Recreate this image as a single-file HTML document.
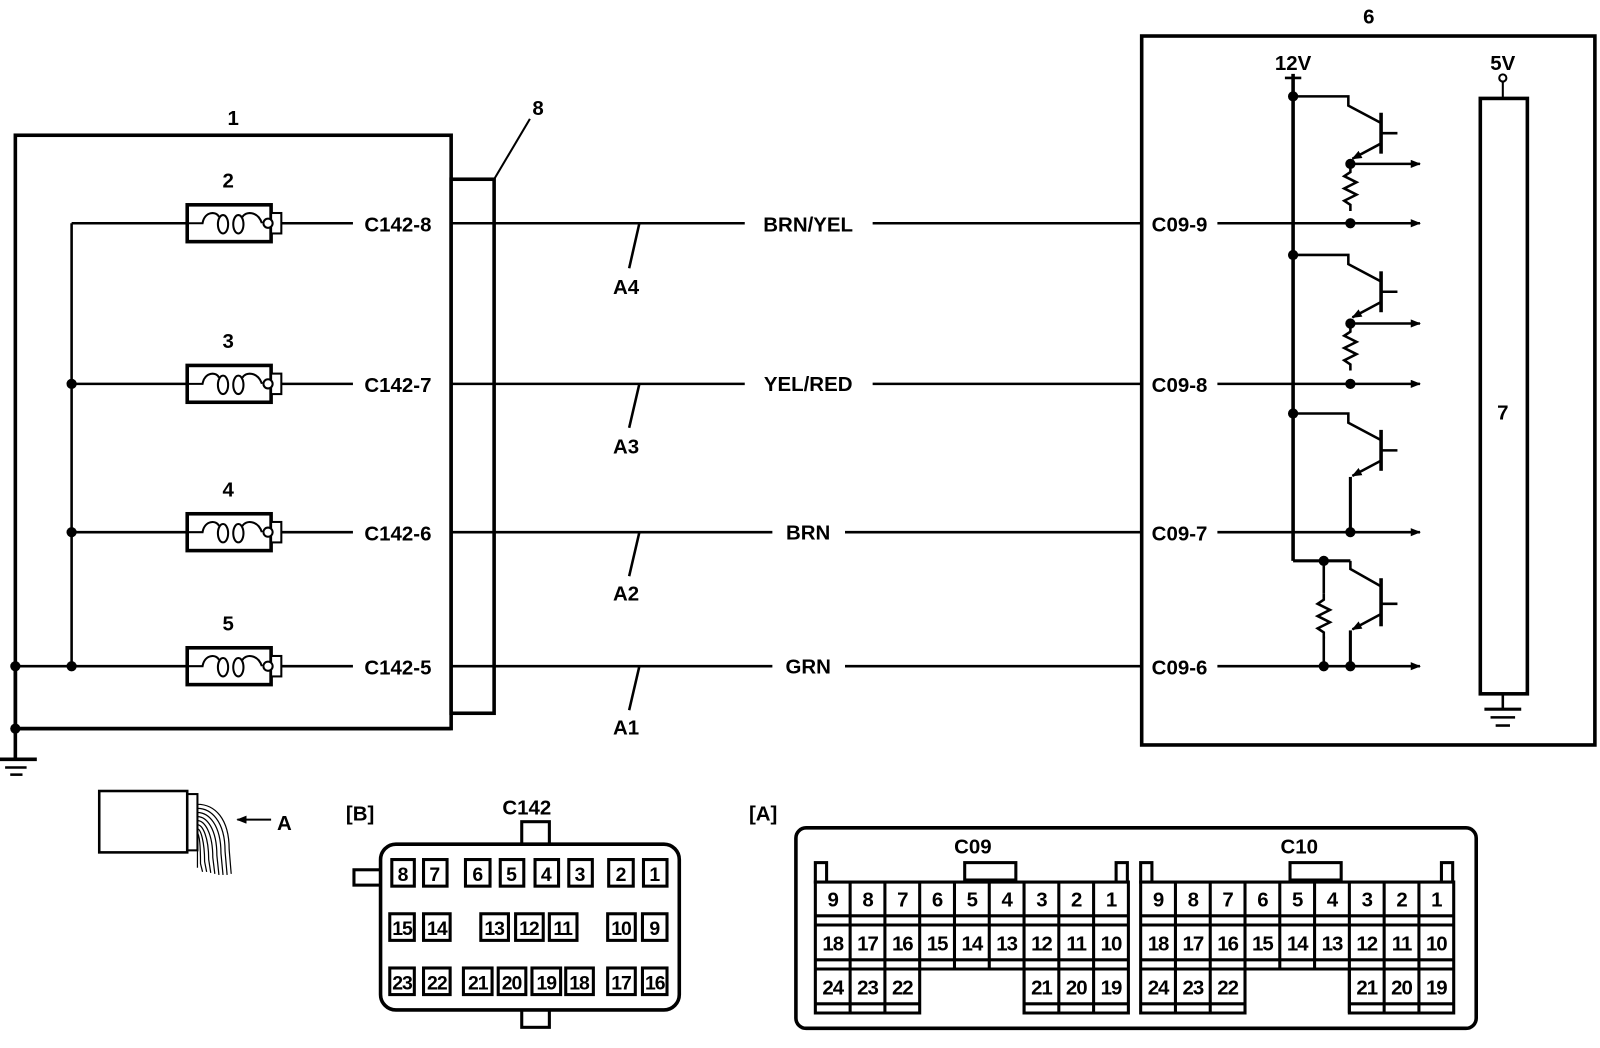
<!DOCTYPE html>
<html><head><meta charset="utf-8"><style>
html,body{margin:0;padding:0;background:#fff;}
svg{display:block;}
text{font-family:"Liberation Sans",Arial,sans-serif;font-weight:bold;fill:#000;}
</style></head><body>
<svg width="1600" height="1048" viewBox="0 0 1564 1024" xmlns="http://www.w3.org/2000/svg">
<defs>
<marker id="ar" markerWidth="10" markerHeight="8" refX="9" refY="4" orient="auto" markerUnits="userSpaceOnUse"><path d="M0,0 L10,4 L0,8 Z" fill="#000"/></marker>
<marker id="ea" markerWidth="10" markerHeight="8" refX="9" refY="4" orient="auto" markerUnits="userSpaceOnUse"><path d="M0,0 L10,4 L0,8 Z" fill="#000"/></marker>
<g id="coil">
<rect x="183" y="-18" width="82" height="36" fill="#fff" stroke="#000" stroke-width="3.5"/>
<rect x="265" y="-10" width="10" height="20" fill="#fff" stroke="#000" stroke-width="2"/>
<path d="M183,0 L198,0 C200,-12 212,-12 214,-6" fill="none" stroke="#000" stroke-width="2"/>
<ellipse cx="218" cy="1" rx="5" ry="9" fill="none" stroke="#000" stroke-width="2"/>
<ellipse cx="233" cy="1" rx="5" ry="9" fill="none" stroke="#000" stroke-width="2"/>
<path d="M237,-6 C240,-12 252,-12 256,0" fill="none" stroke="#000" stroke-width="2"/>
<circle cx="262" cy="0" r="4.5" fill="#fff" stroke="#000" stroke-width="2"/>
</g>
<g id="zz"><path d="M0,0 l0,6 l-6,4 l12,6 l-12,6 l12,6 l-12,6 l6,4 l0,6" fill="none" stroke="#000" stroke-width="2.5"/></g>
</defs>
<g stroke="#000" fill="none">
<rect x="15" y="132" width="426" height="580" stroke-width="3.5"/>
<rect x="441" y="175" width="42" height="522" stroke-width="3.5" fill="#fff"/>
<line x1="483" y1="175" x2="518" y2="116" stroke-width="2"/>
<line x1="15" y1="651" x2="15" y2="742" stroke-width="3.5"/>
<line x1="0" y1="742" x2="36" y2="742" stroke-width="3.5"/>
<line x1="5" y1="750" x2="26" y2="750" stroke-width="2.5"/>
<line x1="10" y1="757" x2="22" y2="757" stroke-width="2.5"/>
<line x1="15" y1="712" x2="441" y2="712" stroke-width="3.5"/>
<line x1="70" y1="218" x2="70" y2="651" stroke-width="2.5"/>
<line x1="70" y1="218" x2="183" y2="218" stroke-width="2.5"/>
<line x1="70" y1="375" x2="183" y2="375" stroke-width="2.5"/>
<line x1="70" y1="520" x2="183" y2="520" stroke-width="2.5"/>
<line x1="15" y1="651" x2="183" y2="651" stroke-width="2.5"/>
<g stroke-width="2.5">
<line x1="275" y1="218" x2="345" y2="218"/><line x1="483" y1="218" x2="728" y2="218"/><line x1="853" y1="218" x2="1116" y2="218"/>
<line x1="275" y1="375" x2="345" y2="375"/><line x1="483" y1="375" x2="728" y2="375"/><line x1="853" y1="375" x2="1116" y2="375"/>
<line x1="275" y1="520" x2="345" y2="520"/><line x1="483" y1="520" x2="755" y2="520"/><line x1="826" y1="520" x2="1116" y2="520"/>
<line x1="275" y1="651" x2="345" y2="651"/><line x1="483" y1="651" x2="755" y2="651"/><line x1="826" y1="651" x2="1116" y2="651"/>
<line x1="441" y1="218" x2="483" y2="218"/><line x1="441" y1="375" x2="483" y2="375"/><line x1="441" y1="520" x2="483" y2="520"/><line x1="441" y1="651" x2="483" y2="651"/>
<line x1="625" y1="218" x2="615" y2="262"/><line x1="625" y1="375" x2="615" y2="418"/><line x1="625" y1="520" x2="615" y2="563"/><line x1="625" y1="651" x2="615" y2="694"/>
</g>
<rect x="1116" y="35" width="443" height="693" stroke-width="3.5"/>
<g stroke-width="2.5">
<line x1="1190" y1="218" x2="1388" y2="218" marker-end="url(#ar)"/>
<line x1="1190" y1="375" x2="1388" y2="375" marker-end="url(#ar)"/>
<line x1="1190" y1="520" x2="1388" y2="520" marker-end="url(#ar)"/>
<line x1="1190" y1="651" x2="1388" y2="651" marker-end="url(#ar)"/>
<line x1="1320" y1="160" x2="1388" y2="160" marker-end="url(#ar)"/>
<line x1="1320" y1="316" x2="1388" y2="316" marker-end="url(#ar)"/>
</g>
<line x1="1264" y1="72" x2="1264" y2="548" stroke-width="3.5"/>
<line x1="1256" y1="76" x2="1272" y2="76" stroke-width="2.5"/>
<line x1="1264" y1="548" x2="1320" y2="548" stroke-width="3"/>
<g stroke-width="2.5">
<path d="M1264,94 L1318,94 L1318,103 L1350,120"/><line x1="1350" y1="110" x2="1350" y2="150" stroke-width="3.5"/><line x1="1350" y1="130" x2="1366" y2="130"/><line x1="1350" y1="140" x2="1322" y2="155" marker-end="url(#ea)"/>
<use href="#zz" x="1320" y="162"/>
<path d="M1264,249 L1318,249 L1318,258 L1350,275"/><line x1="1350" y1="265" x2="1350" y2="305" stroke-width="3.5"/><line x1="1350" y1="285" x2="1366" y2="285"/><line x1="1350" y1="295" x2="1322" y2="310" marker-end="url(#ea)"/>
<use href="#zz" x="1320" y="318"/>
<path d="M1264,404 L1318,404 L1318,413 L1350,430"/><line x1="1350" y1="420" x2="1350" y2="460" stroke-width="3.5"/><line x1="1350" y1="440" x2="1366" y2="440"/><line x1="1350" y1="450" x2="1322" y2="465" marker-end="url(#ea)"/><line x1="1320" y1="466" x2="1320" y2="520" stroke-width="3"/>
<path d="M1320,548 L1320,556 L1350,573"/><line x1="1350" y1="565" x2="1350" y2="612" stroke-width="3.5"/><line x1="1350" y1="590" x2="1366" y2="590"/><line x1="1350" y1="600" x2="1322" y2="615" marker-end="url(#ea)"/><line x1="1320" y1="616" x2="1320" y2="651" stroke-width="3"/>
<line x1="1294" y1="548" x2="1294" y2="580"/><use href="#zz" x="1294" y="580"/><line x1="1294" y1="622" x2="1294" y2="651"/>
</g>
<rect x="1447" y="96" width="46" height="582" stroke-width="3.5"/>
<circle cx="1469" cy="76" r="3.5" stroke-width="2" fill="#fff"/>
<line x1="1469" y1="80" x2="1469" y2="96" stroke-width="2"/>
<line x1="1469" y1="678" x2="1469" y2="693" stroke-width="2.5"/>
<line x1="1451" y1="693" x2="1487" y2="693" stroke-width="3"/>
<line x1="1457" y1="701" x2="1481" y2="701" stroke-width="2.5"/>
<line x1="1462" y1="709" x2="1476" y2="709" stroke-width="2.5"/>
<rect x="97" y="773" width="86" height="60" stroke-width="2.5" fill="#fff"/>
<rect x="183" y="776" width="10" height="55" stroke-width="2"/>
<g stroke-width="1.2">
<path d="M193,786 C210,786 224,800 224,830 L226,854"/><path d="M193,790 C206,790 220,802 220,832 L222,855"/><path d="M193,794 C204,794 216,806 216,834 L218,855"/><path d="M193,798 C202,798 212,810 212,836 L214,855"/><path d="M193,802 C200,802 208,814 208,838 L210,854"/><path d="M193,806 C198,806 204,818 204,840 L206,853"/><path d="M193,810 C196,810 200,822 200,842 L202,852"/><path d="M193,814 C195,816 196,828 196,844 L198,852"/><path d="M193,818 L193,848"/>
</g>
<line x1="265" y1="801" x2="232" y2="801" stroke-width="2" marker-end="url(#ar)"/>
<rect x="510" y="803" width="27" height="22" stroke-width="3" fill="#fff"/>
<rect x="510" y="984" width="27" height="20" stroke-width="3" fill="#fff"/>
<rect x="346" y="850" width="26" height="15" stroke-width="3" fill="#fff"/>
<rect x="372" y="825" width="292" height="162" rx="15" stroke-width="3.5" fill="#fff"/>
<rect x="778" y="809" width="665" height="196" rx="10" stroke-width="3.5"/>
</g>
<g fill="#000">
<circle cx="70" cy="375" r="5"/><circle cx="70" cy="520" r="5"/><circle cx="70" cy="651" r="5"/><circle cx="15" cy="651" r="5"/><circle cx="15" cy="712" r="5"/>
<circle cx="1264" cy="94" r="5"/><circle cx="1264" cy="249" r="5"/><circle cx="1264" cy="404" r="5"/>
<circle cx="1320" cy="160" r="5"/><circle cx="1320" cy="218" r="5"/><circle cx="1320" cy="316" r="5"/><circle cx="1320" cy="375" r="5"/><circle cx="1320" cy="520" r="5"/><circle cx="1320" cy="651" r="5"/><circle cx="1294" cy="651" r="5"/><circle cx="1294" cy="548" r="5"/>
</g>
<use href="#coil" y="218"/><use href="#coil" y="375"/><use href="#coil" y="520"/><use href="#coil" y="651"/>
<g font-size="20" text-anchor="middle">
<text x="228" y="122">1</text><text x="526" y="112">8</text><text x="1338" y="23">6</text>
<text x="223" y="183">2</text><text x="223" y="340">3</text><text x="223" y="485">4</text><text x="223" y="616">5</text>
<text x="389" y="226">C142-8</text><text x="389" y="383">C142-7</text><text x="389" y="528">C142-6</text><text x="389" y="659">C142-5</text>
<text x="790" y="226">BRN/YEL</text><text x="790" y="382">YEL/RED</text><text x="790" y="527">BRN</text><text x="790" y="658">GRN</text>
<text x="612" y="287">A4</text><text x="612" y="443">A3</text><text x="612" y="587">A2</text><text x="612" y="718">A1</text>
<text x="1153" y="226">C09-9</text><text x="1153" y="383">C09-8</text><text x="1153" y="528">C09-7</text><text x="1153" y="659">C09-6</text>
<text x="1264" y="68">12V</text><text x="1469" y="68">5V</text><text x="1469" y="410">7</text>
<text x="278" y="811">A</text><text x="352" y="802">[B]</text><text x="746" y="802">[A]</text>
<text x="515" y="796">C142</text><text x="951" y="834">C09</text><text x="1270" y="834">C10</text>
</g>
<g stroke="#000" stroke-width="3" fill="#fff">
<rect x="383" y="840" width="22" height="26"/><rect x="414" y="840" width="23" height="26"/><rect x="455" y="840" width="24" height="26"/><rect x="489" y="840" width="23" height="26"/><rect x="523" y="840" width="23" height="26"/><rect x="556" y="840" width="23" height="26"/><rect x="595" y="840" width="24" height="26"/><rect x="629" y="840" width="23" height="26"/>
<rect x="381" y="893" width="24" height="26"/><rect x="414" y="893" width="26" height="26"/><rect x="470" y="893" width="27" height="26"/><rect x="504" y="893" width="27" height="26"/><rect x="537" y="893" width="27" height="26"/><rect x="594" y="893" width="27" height="26"/><rect x="628" y="893" width="24" height="26"/>
<rect x="381" y="946" width="24" height="26"/><rect x="414" y="946" width="26" height="26"/><rect x="453" y="946" width="28" height="26"/><rect x="487" y="946" width="27" height="26"/><rect x="520" y="946" width="28" height="26"/><rect x="553" y="946" width="27" height="26"/><rect x="594" y="946" width="27" height="26"/><rect x="628" y="946" width="24" height="26"/>
</g>
<g font-size="19" text-anchor="middle">
<text x="394" y="861">8</text><text x="425" y="861">7</text><text x="467" y="861">6</text><text x="500" y="861">5</text><text x="534" y="861">4</text><text x="567" y="861">3</text><text x="607" y="861">2</text><text x="640" y="861">1</text>
<text x="393" y="914" letter-spacing="-1">15</text><text x="427" y="914" letter-spacing="-1">14</text><text x="483" y="914" letter-spacing="-1">13</text><text x="517" y="914" letter-spacing="-1">12</text><text x="550" y="914" letter-spacing="-1">11</text><text x="607" y="914" letter-spacing="-1">10</text><text x="640" y="914">9</text>
<text x="393" y="967" letter-spacing="-1">23</text><text x="427" y="967" letter-spacing="-1">22</text><text x="467" y="967" letter-spacing="-1">21</text><text x="500" y="967" letter-spacing="-1">20</text><text x="534" y="967" letter-spacing="-1">19</text><text x="566" y="967" letter-spacing="-1">18</text><text x="607" y="967" letter-spacing="-1">17</text><text x="640" y="967" letter-spacing="-1">16</text>
</g>
<g id="ecu">
<g stroke="#000" stroke-width="3" fill="#fff">
<rect x="797" y="843" width="11" height="19"/><rect x="1091" y="843" width="11" height="19"/><rect x="943" y="843" width="50" height="17"/>
<path d="M797,862 H1103 V990 H1001 V947 H899 V990 H797 Z"/>
</g>
<g stroke="#000" stroke-width="3">
<line x1="797" y1="895" x2="1103" y2="895"/><line x1="797" y1="904" x2="1103" y2="904"/>
<line x1="797" y1="938" x2="1103" y2="938"/><line x1="797" y1="947" x2="1103" y2="947"/>
<line x1="797" y1="981" x2="899" y2="981"/><line x1="1001" y1="981" x2="1103" y2="981"/>
<line x1="831" y1="862" x2="831" y2="990"/><line x1="865" y1="862" x2="865" y2="990"/><line x1="899" y1="862" x2="899" y2="947"/><line x1="933" y1="862" x2="933" y2="947"/><line x1="967" y1="862" x2="967" y2="947"/><line x1="1001" y1="862" x2="1001" y2="990"/><line x1="1035" y1="862" x2="1035" y2="990"/><line x1="1069" y1="862" x2="1069" y2="990"/>
</g>
<g font-size="20" text-anchor="middle" letter-spacing="-1">
<text x="814" y="886">9</text><text x="848" y="886">8</text><text x="882" y="886">7</text><text x="916" y="886">6</text><text x="950" y="886">5</text><text x="984" y="886">4</text><text x="1018" y="886">3</text><text x="1052" y="886">2</text><text x="1086" y="886">1</text>
<text x="814" y="929">18</text><text x="848" y="929">17</text><text x="882" y="929">16</text><text x="916" y="929">15</text><text x="950" y="929">14</text><text x="984" y="929">13</text><text x="1018" y="929">12</text><text x="1052" y="929">11</text><text x="1086" y="929">10</text>
<text x="814" y="972">24</text><text x="848" y="972">23</text><text x="882" y="972">22</text><text x="1018" y="972">21</text><text x="1052" y="972">20</text><text x="1086" y="972">19</text>
</g>
</g>
<use href="#ecu" x="318"/>
</svg>
</body></html>
